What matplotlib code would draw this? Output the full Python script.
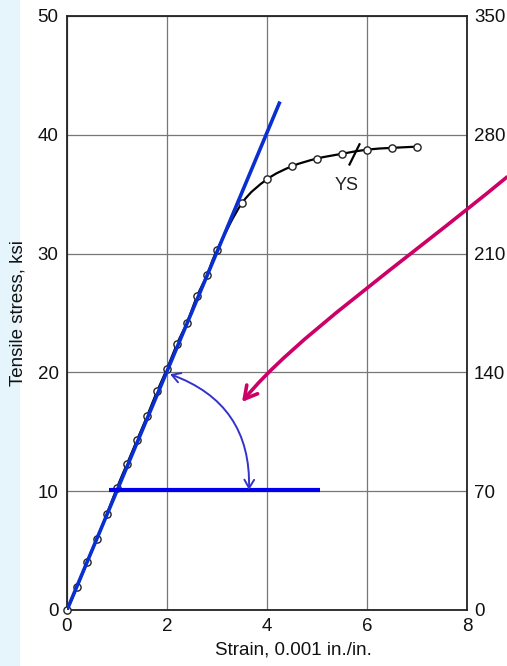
import matplotlib
matplotlib.use("Agg")
import matplotlib.pyplot as plt
from matplotlib.patches import FancyArrowPatch, Rectangle, PathPatch
from matplotlib.path import Path

plt.rcParams['font.family'] = ['Liberation Sans', 'DejaVu Sans']

# Data
strain = [0, 0.2, 0.4, 0.6, 0.8, 1.0, 1.2, 1.4, 1.6, 1.8, 2.0, 2.2, 2.4, 2.6, 2.8, 3.0,
          3.5, 4.0, 4.5, 5.0, 5.5, 6.0, 6.5, 7.0]
stress = [0, 1.9, 4.0, 6.0, 8.1, 10.3, 12.3, 14.3, 16.3, 18.4, 20.3, 22.4, 24.2, 26.4, 28.2, 30.3,
          34.25, 36.25, 37.35, 38.0, 38.4, 38.75, 38.9, 39.0]

modulus_x = [0, 4.26]
modulus_y = [0, 42.8]
horiz_x = [0.83, 5.06]
horiz_y = [10.1, 10.1]

x_ticks = [0, 2, 4, 6, 8]
y_ticks = [0, 10, 20, 30, 40, 50]
y2_ticks = [0, 70, 140, 210, 280, 350]

fig = plt.figure(figsize=(5.07, 6.66), dpi=100)
fig.patches.append(Rectangle((0, 0), 20 / 507, 1, transform=fig.transFigure,
                             facecolor='#e6f5fc', edgecolor='none', zorder=-10))

ax = fig.add_axes([67 / 507, 1 - 610 / 666, 400 / 507, 594 / 666])
ax.set_xlim(0, 8)
ax.set_ylim(0, 50)
ax.set_xticks(x_ticks)
ax.set_yticks(y_ticks)
ax.grid(True, color='#777777', linewidth=0.9)
ax.set_axisbelow(True)
ax.tick_params(length=0, labelsize=13.5, pad=6, colors='#111111')
for s in ax.spines.values():
    s.set_linewidth(1.3)
    s.set_color('#222222')

ax.set_xlabel('Strain, 0.001 in./in.', fontsize=13.5, color='#111111')
ax.xaxis.set_label_coords(0.565, -0.053)
ax.set_ylabel('Tensile stress, ksi', fontsize=13.5, color='#111111')
ax.yaxis.set_label_coords(-0.10, 0.50)

ax2 = ax.twinx()
ax2.set_ylim(0, 350)
ax2.set_yticks(y2_ticks)
ax2.tick_params(length=0, labelsize=13.5, pad=5, colors='#111111')
for s in ax2.spines.values():
    s.set_visible(False)

# Smooth black curve through the data points (Catmull-Rom as cubic Bezier)
verts = [(strain[0], stress[0])]
codes = [Path.MOVETO]
n = len(strain)
for i in range(n - 1):
    p0 = (strain[max(i - 1, 0)], stress[max(i - 1, 0)])
    p1 = (strain[i], stress[i])
    p2 = (strain[i + 1], stress[i + 1])
    p3 = (strain[min(i + 2, n - 1)], stress[min(i + 2, n - 1)])
    c1 = (p1[0] + (p2[0] - p0[0]) / 6, p1[1] + (p2[1] - p0[1]) / 6)
    c2 = (p2[0] - (p3[0] - p1[0]) / 6, p2[1] - (p3[1] - p1[1]) / 6)
    verts += [c1, c2, p2]
    codes += [Path.CURVE4] * 3
ax.add_patch(PathPatch(Path(verts, codes), facecolor='none', edgecolor='black',
                       linewidth=1.6, zorder=3))
ax.plot(strain, stress, linestyle='none', marker='o', markersize=5.2,
        markerfacecolor='white', markeredgecolor='#222222', markeredgewidth=1.0,
        zorder=4, clip_on=False)

# YS mark
ax.plot([5.65, 5.85], [37.5, 39.2], color='black', linewidth=1.6, zorder=5)
ax.text(5.6, 35.7, 'YS', fontsize=13, ha='center', va='center', color='#222222')

# Blue modulus line and horizontal line
ax.plot(modulus_x, modulus_y, color='#0a2fd0', linewidth=2.6, zorder=6, solid_capstyle='butt')
ax.plot(horiz_x, horiz_y, color='#0000ee', linewidth=3.0, zorder=6, solid_capstyle='butt')

# Angle arc
arc = FancyArrowPatch((2.06, 19.85), (3.64, 10.1), connectionstyle='arc3,rad=-0.36',
                      arrowstyle='<->,head_length=6,head_width=3.5', color='#3333cc',
                      linewidth=1.4, zorder=7, shrinkA=0, shrinkB=0)
ax.add_patch(arc)

# Magenta curved arrow (cubic Bezier)
def px2data(px, py):
    return ((px - 67) / 50.0, (610 - py) / 11.88)

pts_px = [(507, 177), (400, 265), (292, 340), (242, 402)]
pts = [px2data(*p) for p in pts_px]
path = Path(pts, [Path.MOVETO, Path.CURVE4, Path.CURVE4, Path.CURVE4])
mag = FancyArrowPatch(path=path, arrowstyle='->,head_length=9,head_width=5',
                      color='#cc0066', linewidth=2.6, zorder=8, clip_on=False,
                      joinstyle='round', capstyle='round')
ax.add_patch(mag)

fig.savefig('out.png', dpi=100)
